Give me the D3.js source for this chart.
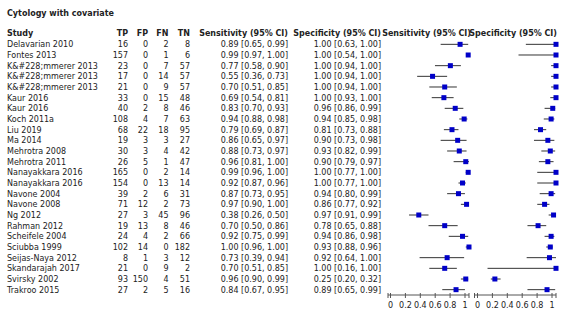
<!DOCTYPE html>
<html>
<head>
<meta charset="utf-8">
<script src="https://cdn.jsdelivr.net/npm/d3@7"></script>
<style>
  body { margin: 0; background: #fff; }
  text { font-family: "DejaVu Sans"; font-size: 8px; fill: #222; }
  .bold { font-weight: bold; }
</style>
</head>
<body>
<svg></svg>
<script>
const width = 562;
const height = 312;

const studies = ['Delavarian 2010', 'Fontes 2013', 'K&#228;mmerer 2013', 'K&#228;mmerer 2013', 'K&#228;mmerer 2013',
    'Kaur 2016', 'Kaur 2016', 'Koch 2011a', 'Liu 2019', 'Ma 2014', 'Mehrotra 2008', 'Mehrotra 2011',
    'Nanayakkara 2016', 'Nanayakkara 2016', 'Navone 2004', 'Navone 2008', 'Ng 2012', 'Rahman 2012',
    'Scheifele 2004', 'Sciubba 1999', 'Seijas-Naya 2012', 'Skandarajah 2017', 'Svirsky 2002', 'Trakroo 2015'];
const tp = [16, 157, 23, 17, 21, 33, 40, 108, 68, 19, 30, 26, 165, 154, 39, 71, 27, 19, 24, 102, 8, 21, 93, 27];
const fp = [0, 0, 0, 0, 0, 0, 2, 4, 22, 3, 3, 5, 0, 0, 2, 12, 3, 13, 4, 14, 1, 0, 150, 2];
const fn = [2, 1, 7, 14, 9, 15, 8, 7, 18, 3, 4, 1, 2, 13, 6, 2, 45, 8, 2, 0, 3, 9, 4, 5];
const tn = [8, 6, 57, 57, 57, 48, 46, 63, 95, 27, 42, 47, 14, 14, 31, 73, 96, 46, 66, 182, 12, 2, 51, 16];
const sens = [0.89, 0.99, 0.77, 0.55, 0.70, 0.69, 0.83, 0.94, 0.79, 0.86, 0.88, 0.96, 0.99, 0.92, 0.87, 0.97, 0.38, 0.70, 0.92, 1.00, 0.73, 0.70, 0.96, 0.84];
const sensLo = [0.65, 0.97, 0.58, 0.36, 0.51, 0.54, 0.70, 0.88, 0.69, 0.65, 0.73, 0.81, 0.96, 0.87, 0.73, 0.90, 0.26, 0.50, 0.75, 0.96, 0.39, 0.51, 0.90, 0.67];
const sensHi = [0.99, 1.00, 0.90, 0.73, 0.85, 0.81, 0.93, 0.98, 0.87, 0.97, 0.97, 1.00, 1.00, 0.96, 0.95, 1.00, 0.50, 0.86, 0.99, 1.00, 0.94, 0.85, 0.99, 0.95];
const spec = [1.00, 1.00, 1.00, 1.00, 1.00, 1.00, 0.96, 0.94, 0.81, 0.90, 0.93, 0.90, 1.00, 1.00, 0.94, 0.86, 0.97, 0.78, 0.94, 0.93, 0.92, 1.00, 0.25, 0.89];
const specLo = [0.63, 0.54, 0.94, 0.94, 0.94, 0.93, 0.86, 0.85, 0.73, 0.73, 0.82, 0.79, 0.77, 0.77, 0.80, 0.77, 0.91, 0.65, 0.86, 0.88, 0.64, 0.16, 0.20, 0.65];
const specHi = [1.00, 1.00, 1.00, 1.00, 1.00, 1.00, 0.99, 0.98, 0.88, 0.98, 0.99, 0.97, 1.00, 1.00, 0.99, 0.92, 0.99, 0.88, 0.98, 0.96, 1.00, 1.00, 0.32, 0.99];
const tickValues = [0, 0.2, 0.4, 0.6, 0.8, 1];

const svg = d3.select('svg')
    .attr('width', width)
    .attr('height', height);

svg.append('rect').attr('width', width).attr('height', height).attr('fill', '#fff');

const rows = studies.map((s, i) => ({
    i, study: s, tp: tp[i], fp: fp[i], fn: fn[i], tn: tn[i],
    sens: sens[i], sensLo: sensLo[i], sensHi: sensHi[i],
    spec: spec[i], specLo: specLo[i], specHi: specHi[i]
}));

const y = d3.scalePoint().domain(d3.range(studies.length)).range([44.333, 289.667]);

// data scales and (slightly inset) tick scales, as in the reference
const xSens = d3.scaleLinear().domain([0, 1]).range([388, 469]);
const xSpec = d3.scaleLinear().domain([0, 1]).range([474.5, 556]);
const tickSens = d3.scaleLinear().domain([0, 1]).range([390, 464.5]);
const tickSpec = d3.scaleLinear().domain([0, 1]).range([477, 551.5]);

const fmt = d3.format('.2f');

svg.append('text').attr('class', 'bold').attr('x', 7).attr('y', 15.5).text('Cytology with covariate');

const headerY = 36;
const cols = [
    {label: 'Study', x: 7, anchor: 'start', val: d => d.study},
    {label: 'TP', x: 128, anchor: 'end', val: d => d.tp},
    {label: 'FP', x: 148, anchor: 'end', val: d => d.fp},
    {label: 'FN', x: 168.5, anchor: 'end', val: d => d.fn},
    {label: 'TN', x: 190, anchor: 'end', val: d => d.tn},
    {label: 'Sensitivity (95% CI)', x: 288, anchor: 'end', val: d => `${fmt(d.sens)} [${fmt(d.sensLo)}, ${fmt(d.sensHi)}]`},
    {label: 'Specificity (95% CI)', x: 381, anchor: 'end', val: d => `${fmt(d.spec)} [${fmt(d.specLo)}, ${fmt(d.specHi)}]`}
];

cols.forEach(c => {
    svg.append('text').attr('class', 'bold')
        .attr('x', c.x).attr('y', headerY)
        .attr('text-anchor', c.anchor)
        .text(c.label);
    svg.append('g').attr('class', 'col').selectAll('text')
        .data(rows).enter().append('text')
        .attr('x', c.x)
        .attr('y', d => y(d.i) + 2.9)
        .attr('text-anchor', c.anchor)
        .text(c.val);
});

svg.append('text').attr('class', 'bold')
    .attr('x', xSens(1) + 2).attr('y', headerY)
    .attr('text-anchor', 'end').text('Sensitivity (95% CI)');
svg.append('text').attr('class', 'bold')
    .attr('x', xSpec(1) + 1).attr('y', headerY)
    .attr('text-anchor', 'end').text('Specificity (95% CI)');

const drawPanel = (x, tx, key) => {
    const g = svg.append('g');
    g.selectAll('line.ci')
        .data(rows).enter().append('line')
        .attr('class', 'ci')
        .attr('x1', d => x(d[key + 'Lo']))
        .attr('x2', d => x(d[key + 'Hi']))
        .attr('y1', d => y(d.i))
        .attr('y2', d => y(d.i))
        .attr('stroke', '#333')
        .attr('stroke-width', 1);
    g.selectAll('rect.pt')
        .data(rows).enter().append('rect')
        .attr('class', 'pt')
        .attr('x', d => x(d[key]) - 2.5)
        .attr('y', d => y(d.i) - 2.5)
        .attr('width', 5)
        .attr('height', 5)
        .attr('fill', '#0000c8');

    const axisY = 295;
    const axis = g.append('g')
        .attr('transform', `translate(0,${axisY})`)
        .call(d3.axisBottom(tx).tickValues(tickValues).tickFormat(d3.format('~g')).tickSize(3).tickPadding(4));
    axis.attr('font-family', null).attr('font-size', null);
    axis.select('.domain').remove();
    axis.selectAll('.tick line').attr('y1', -2).attr('stroke', '#555');
    axis.selectAll('.tick text').attr('fill', '#222');
    axis.append('line')
        .attr('x1', x.range()[0]).attr('x2', x.range()[1])
        .attr('stroke', '#555');
    x.range().forEach(px => {
        axis.append('line').attr('x1', px).attr('x2', px).attr('y1', -2).attr('y2', 3).attr('stroke', '#555');
    });
};

drawPanel(xSens, tickSens, 'sens');
drawPanel(xSpec, tickSpec, 'spec');
</script>
</body>
</html>
